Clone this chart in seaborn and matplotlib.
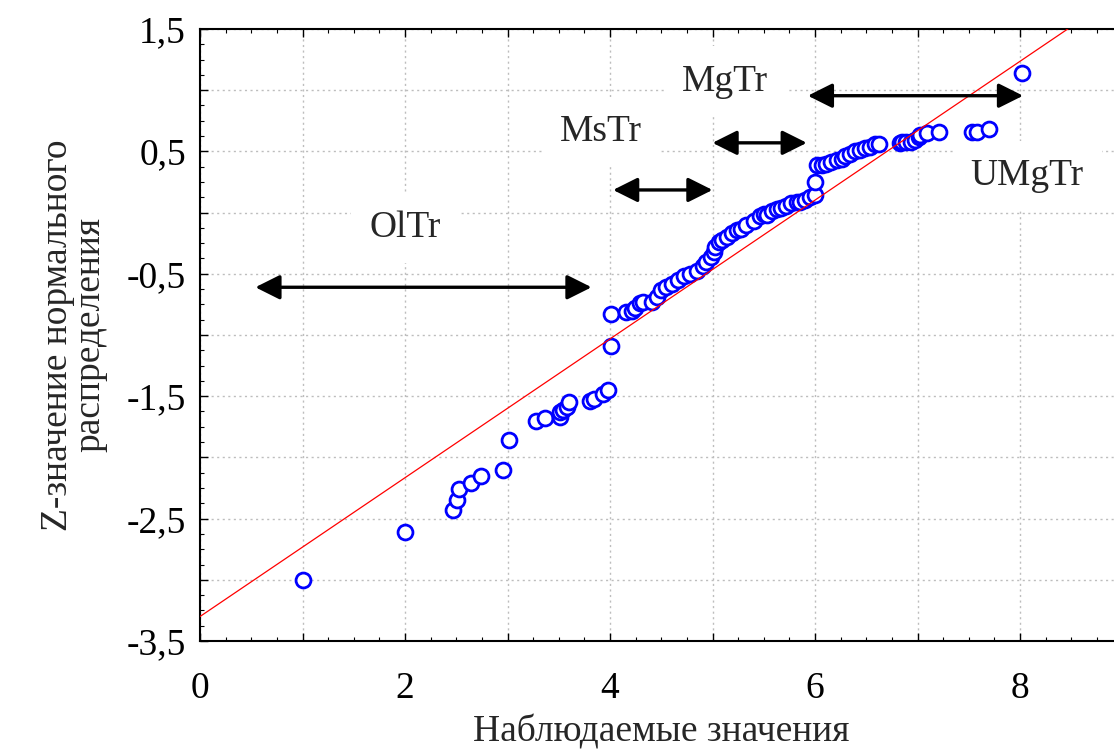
import numpy as np
import pandas as pd
import matplotlib
matplotlib.use("Agg")
import matplotlib.pyplot as plt
from matplotlib.ticker import MultipleLocator
import seaborn as sns

# Observed values and their normal-distribution z scores
x_obs = [1.00, 2.00, 2.47, 2.51, 2.53, 2.64, 2.74, 2.96, 3.01, 3.28, 3.37, 3.51, 3.51,
         3.54, 3.58, 3.60, 3.80, 3.84, 3.93, 3.98, 4.01, 4.01,
         4.16, 4.21, 4.24, 4.29, 4.32, 4.41, 4.46, 4.50, 4.55, 4.60, 4.66, 4.72, 4.78, 4.85,
         4.91, 4.94, 4.99, 5.01, 5.02, 5.06, 5.09, 5.14, 5.19, 5.24, 5.28, 5.33, 5.40,
         5.46, 5.50, 5.53, 5.58, 5.63, 5.67, 5.72, 5.77, 5.82,
         5.85, 5.90, 5.95, 6.00, 6.00, 6.02, 6.07, 6.11, 6.16, 6.21, 6.26, 6.29, 6.34,
         6.39, 6.44, 6.49, 6.54, 6.59, 6.62,
         6.83, 6.85, 6.89, 6.94, 6.98, 7.01, 7.02, 7.09, 7.21, 7.53, 7.58, 7.70, 8.02]
z_norm = [-3.00, -2.61, -2.43, -2.35, -2.26, -2.21, -2.15, -2.10, -1.86, -1.70, -1.68, -1.67, -1.63,
          -1.61, -1.59, -1.55, -1.54, -1.52, -1.48, -1.45, -1.09, -0.83,
          -0.81, -0.80, -0.78, -0.74, -0.73, -0.73, -0.69, -0.63, -0.61, -0.58, -0.55, -0.52, -0.50, -0.475,
          -0.44, -0.40, -0.36, -0.32, -0.28, -0.24, -0.22, -0.20, -0.17, -0.14, -0.13, -0.10, -0.07,
          -0.03, -0.01, -0.02, 0.01, 0.03, 0.04, 0.05, 0.08, 0.09,
          0.09, 0.10, 0.13, 0.14, 0.25, 0.39, 0.39, 0.40, 0.41, 0.43, 0.44, 0.46, 0.48,
          0.50, 0.51, 0.53, 0.54, 0.56, 0.56,
          0.57, 0.58, 0.58, 0.58, 0.59, 0.62, 0.63, 0.65, 0.66, 0.66, 0.66, 0.68, 1.14]

# Reference normal line: z = intercept + slope * x
fit_intercept = -3.30
fit_slope = 0.567
fit_x = [0.0, 9.0]

# Ranges of the rock types and their labels
range_names = ["OlTr", "MsTr", "MgTr", "UMgTr"]
range_start = [0.54, 4.03, 5.00, 5.93]
range_end = [3.82, 5.00, 5.92, 8.03]
range_level = [-0.61, 0.185, 0.57, 0.955]
label_x = [2.00, 3.91, 5.12, 8.07]
label_z = [-0.12, 0.66, 1.07, 0.30]

x_ticks = [0, 2, 4, 6, 8]
y_ticks = [1.5, 0.5, -0.5, -1.5, -2.5, -3.5]
y_tick_labels = ["1,5", "0,5", "-0,5", "-1,5", "-2,5", "-3,5"]

sns.set_style("white")
plt.rcParams["font.family"] = ["Liberation Serif", "DejaVu Serif"]

fig = plt.figure(figsize=(11.14, 7.49), dpi=100)
ax = fig.add_axes([200 / 1114, 108 / 749, 922.5 / 1114, 612 / 749])

df = pd.DataFrame({"x": x_obs, "z": z_norm})
sns.scatterplot(data=df, x="x", y="z", ax=ax, marker="o", s=115,
                color="white", edgecolor="#0000FF", linewidth=2.0, zorder=4)

line_df = pd.DataFrame({"x": fit_x,
                        "z": [fit_intercept + fit_slope * v for v in fit_x]})
sns.lineplot(data=line_df, x="x", y="z", ax=ax, color="#FF0000", linewidth=0.9, zorder=5)

for x0, x1, lvl in zip(range_start, range_end, range_level):
    ax.annotate("", xy=(x1, lvl), xytext=(x0, lvl),
                arrowprops=dict(arrowstyle="<|-|>,head_length=1.0,head_width=0.5",
                                mutation_scale=15, lw=2.4, color="black",
                                shrinkA=0, shrinkB=0), zorder=6)

for name, tx, tz in zip(range_names, label_x, label_z):
    ax.text(tx, tz, name, fontsize=27, ha="center", va="center", zorder=3,
            bbox=dict(facecolor="white", edgecolor="none", pad=13))

ax.set_xlim(0, 9)
ax.set_ylim(-3.5, 1.5)

ax.xaxis.set_minor_locator(MultipleLocator(0.25))
ax.yaxis.set_minor_locator(MultipleLocator(0.125))

ax.grid(True, which="major", linestyle=(0, (1.5, 2.5)), color="#BDBDBD", linewidth=1.0)
ax.set_axisbelow(True)

xt = np.arange(0, 9.01, 1)
ax.set_xticks(xt)
ax.set_xticklabels([str(int(v)) if int(v) in x_ticks else "" for v in xt])
yt = np.arange(-3.5, 1.51, 0.5)
ax.set_yticks(yt)
ax.set_yticklabels([y_tick_labels[y_ticks.index(round(v, 1))] if round(v, 1) in y_ticks else ""
                    for v in yt])

ax.tick_params(which="both", direction="in", top=True, left=True, bottom=True, right=False,
               colors="black")
ax.tick_params(which="major", length=6, width=1.0, labelsize=27)
ax.tick_params(which="minor", length=3, width=0.8)
ax.tick_params(axis="x", which="major", pad=22)
ax.tick_params(axis="y", which="major", pad=10)

for side in ["left", "bottom", "top"]:
    ax.spines[side].set_visible(True)
    ax.spines[side].set_color("black")
    ax.spines[side].set_linewidth(1.5)
ax.spines["right"].set_visible(False)

ax.set_xlabel("Наблюдаемые значения", fontsize=27, labelpad=6)
ax.set_ylabel("Z-значение нормального\nраспределения", fontsize=27, labelpad=14,
              linespacing=0.92)

fig.savefig("out.png", dpi=100)
